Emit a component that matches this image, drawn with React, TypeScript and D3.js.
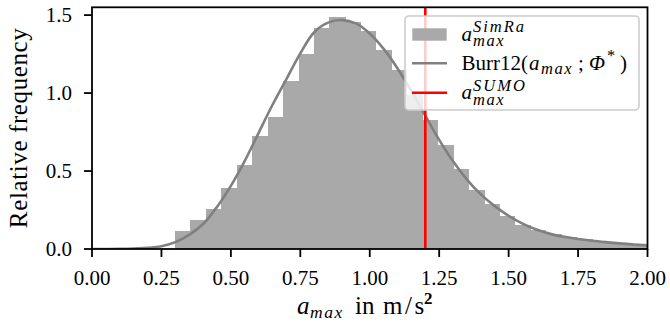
import React from "react";
import * as d3 from "d3";

// ---------- data ----------
const binStart = 0.299;
const binWidth = 0.0556;
const histValues = [
  0.117, 0.187, 0.255, 0.39, 0.54, 0.727, 0.845, 1.08, 1.25, 1.42, 1.49, 1.455,
  1.4, 1.276, 1.149, 0.99, 0.83, 0.67, 0.51, 0.378, 0.287, 0.213, 0.153, 0.123,
  0.096, 0.078, 0.062, 0.05, 0.04, 0.032, 0.026,
];
const curveX = [
  0, 0.05, 0.1, 0.15, 0.2, 0.25, 0.3, 0.35, 0.4, 0.45, 0.5, 0.55, 0.6, 0.65, 0.7,
  0.75, 0.8, 0.85, 0.9, 0.95, 1.0, 1.05, 1.1, 1.15, 1.2, 1.25, 1.3, 1.35, 1.4,
  1.45, 1.5, 1.55, 1.6, 1.65, 1.7, 1.75, 1.8, 1.85, 1.9, 1.95, 2.0,
];
const curveY = [
  0, 0, 0.0005, 0.003, 0.007, 0.018, 0.044, 0.09, 0.16, 0.27, 0.405, 0.565, 0.745,
  0.925, 1.09, 1.255, 1.39, 1.452, 1.468, 1.447, 1.382, 1.283, 1.158, 1.012, 0.855,
  0.7, 0.562, 0.445, 0.35, 0.275, 0.213, 0.163, 0.125, 0.097, 0.078, 0.064, 0.053,
  0.044, 0.036, 0.029, 0.023,
];
const sumoValue = 1.2;
const xTicks = [0, 0.25, 0.5, 0.75, 1.0, 1.25, 1.5, 1.75, 2.0];
const yTicks = [0, 0.5, 1.0, 1.5];

// ---------- layout ----------
const W = 670;
const H = 329;
const L = 92;
const R = 647.5;
const T = 7.3;
const B = 249;
const FONT = "'Liberation Serif', 'DejaVu Serif', serif";
const HIST_COLOR = "#a9a9a9";
const CURVE_COLOR = "#808080";
const RED = "#ff0000";

export default function App() {
  const x = d3.scaleLinear().domain([0, 2]).range([L, R]);
  const y = d3.scaleLinear().domain([0, 1.55]).range([B, T]);

  const bins = histValues.map((v, i) => ({
    x0: binStart + i * binWidth,
    x1: binStart + (i + 1) * binWidth,
    v,
  }));
  const pts = curveX.map((cx, i) => [cx, curveY[i]] as [number, number]);
  const line = d3
    .line<[number, number]>()
    .x((d) => x(d[0]))
    .y((d) => y(d[1]))
    .curve(d3.curveCatmullRom.alpha(0.5));

  const tickLen = 8;
  const sw = 1.8;
  const supSize = 16.5;

  return (
    <svg
      width={W}
      height={H}
      style={{ position: "absolute", left: 0, top: 0, background: "#fff" }}
      fontFamily={FONT}
    >
      <defs>
        <clipPath id="plotclip">
          <rect x={L} y={T} width={R - L} height={B - T} />
        </clipPath>
      </defs>
      <rect x={0} y={0} width={W} height={H} fill="#fff" />
      <g clipPath="url(#plotclip)">
        <g shapeRendering="crispEdges">
          {bins.map((b, i) => (
            <rect
              key={i}
              x={x(b.x0)}
              y={y(b.v)}
              width={x(b.x1) - x(b.x0) + 0.6}
              height={y(0) - y(b.v)}
              fill={HIST_COLOR}
            />
          ))}
        </g>
        <path d={line(pts) || ""} fill="none" stroke={CURVE_COLOR} strokeWidth={2.6} />
        <line
          x1={x(sumoValue)}
          x2={x(sumoValue)}
          y1={T}
          y2={B}
          stroke={RED}
          strokeWidth={2.6}
        />
      </g>

      {/* spines */}
      <rect
        x={L}
        y={T}
        width={R - L}
        height={B - T}
        fill="none"
        stroke="#000"
        strokeWidth={sw}
      />

      {/* x ticks */}
      {xTicks.map((t) => (
        <g key={"x" + t}>
          <line x1={x(t)} x2={x(t)} y1={B} y2={B + tickLen} stroke="#000" strokeWidth={sw} />
          <text x={x(t)} y={285} textAnchor="middle" fontSize={21}>
            {d3.format(".2f")(t)}
          </text>
        </g>
      ))}
      {/* y ticks */}
      {yTicks.map((t) => (
        <g key={"y" + t}>
          <line x1={L - tickLen} x2={L} y1={y(t)} y2={y(t)} stroke="#000" strokeWidth={sw} />
          <text x={72} y={y(t) + 7} textAnchor="end" fontSize={21}>
            {d3.format(".1f")(t)}
          </text>
        </g>
      ))}

      {/* y label */}
      <text
        transform={`translate(27,${(T + B) / 2}) rotate(-90)`}
        textAnchor="middle"
        fontSize={25}
        textLength={200}
        lengthAdjust="spacing"
      >
        Relative frequency
      </text>

      {/* x label */}
      <text y={314} fontSize={25}>
        <tspan x={297} fontStyle="italic">a</tspan>
        <tspan x={310} dy={4} fontSize={17.5} fontStyle="italic" letterSpacing={1.5}>max</tspan>
        <tspan x={355} dy={-4}>in</tspan>
        <tspan x={383} letterSpacing={2.5}>m/s</tspan>
        <tspan x={424} dy={-10} fontSize={17} fontWeight="bold">2</tspan>
      </text>

      {/* legend */}
      <rect
        x={405}
        y={16}
        width={234}
        height={94}
        rx={4}
        fill="#fff"
        fillOpacity={0.8}
        stroke="#cccccc"
        strokeWidth={1.6}
      />
      <rect x={412.3} y={28.3} width={34.4} height={12.4} fill={HIST_COLOR} />
      <line x1={412} x2={447} y1={63.3} y2={63.3} stroke={CURVE_COLOR} strokeWidth={2.6} />
      <line x1={412} x2={447} y1={92.7} y2={92.7} stroke={RED} strokeWidth={2.6} />

      <text fontSize={21}>
        <tspan x={461.5} y={40.5} fontStyle="italic">a</tspan>
        <tspan x={473} y={32} fontSize={supSize} fontStyle="italic" letterSpacing={2}>SimRa</tspan>
        <tspan x={473} y={46} fontSize={supSize} fontStyle="italic" letterSpacing={1.5}>max</tspan>
      </text>
      <text fontSize={21}>
        <tspan x={461.5} y={69.5}>Burr12(</tspan>
        <tspan x={529} y={69.5} fontStyle="italic">a</tspan>
        <tspan x={541} y={74} fontSize={supSize} fontStyle="italic" letterSpacing={1.5}>max</tspan>
        <tspan x={578} y={69.5}>;</tspan>
        <tspan x={589} y={69.5} fontStyle="italic">Φ</tspan>
        <tspan x={607} y={61} fontSize={supSize}>*</tspan>
        <tspan x={620} y={69.5}>)</tspan>
      </text>
      <text fontSize={21}>
        <tspan x={461.5} y={99.3} fontStyle="italic">a</tspan>
        <tspan x={473} y={91} fontSize={supSize} fontStyle="italic" letterSpacing={2}>SUMO</tspan>
        <tspan x={473} y={104.8} fontSize={supSize} fontStyle="italic" letterSpacing={1.5}>max</tspan>
      </text>
    </svg>
  );
}
